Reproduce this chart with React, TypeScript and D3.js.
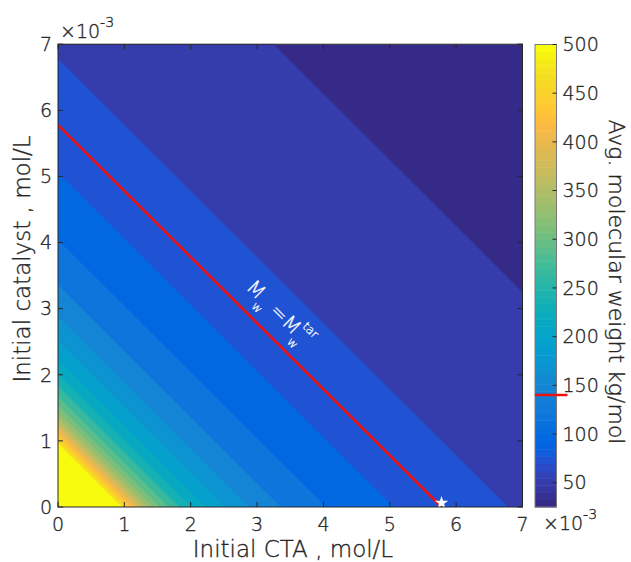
import React from "react";
import * as d3 from "d3";

// Axis ticks (units of 1e-3 mol/L) and colorbar ticks (kg/mol)
const ctaTicks = [0, 1, 2, 3, 4, 5, 6, 7];
const catTicks = [0, 1, 2, 3, 4, 5, 6, 7];
const mwTicks = [50, 100, 150, 200, 250, 300, 350, 400, 450, 500];

// Filled-contour levels of the average molecular weight (kg/mol)
const mwLevels = [
  25, 48.75, 72.5, 96.25, 120, 143.75, 167.5, 191.25, 215, 238.75, 262.5,
  286.25, 310, 333.75, 357.5, 381.25, 405, 428.75, 452.5, 476.25, 500,
];
// CTA + catalyst total (1e-3 mol/L) at which mwLevels[1..] are reached
const levelSums = [
  10.25, 6.78, 5.06, 4.04, 3.36, 2.88, 2.52, 2.23, 2.01, 1.83, 1.67, 1.54,
  1.43, 1.34, 1.25, 1.18, 1.11, 1.055, 1.0, 0.955,
];

// Target molecular weight and the CTA + catalyst total that yields it
const targetMw = 140;
const targetSum = 5.78;

// MATLAB parula colormap, 64 entries
const parula = [
  "#352a87", "#363093", "#3637a0", "#353dad", "#3243ba", "#2b4ac7", "#2053d4", "#0f5cdd",
  "#0363e1", "#0268e1", "#046de0", "#0871de", "#0d75dc", "#1079da", "#127dd8", "#1481d6",
  "#1485d4", "#1389d3", "#108ed2", "#0c93d2", "#0998d1", "#079ccf", "#06a0cd", "#06a4ca",
  "#06a7c6", "#07a9c2", "#0aacbe", "#0faeb9", "#15b1b4", "#1db3af", "#25b5a9", "#2eb7a4",
  "#38b99e", "#42bb98", "#4dbc92", "#59bd8c", "#65be86", "#71bf80", "#7cbf7b", "#87bf77",
  "#92bf73", "#9bbe6e", "#a5be6b", "#aebd67", "#b7bd64", "#c0bc60", "#c8bb5c", "#d1bb59",
  "#d9ba56", "#e1b952", "#e9b94e", "#f1b94a", "#f8ba44", "#fdbe3d", "#ffc337", "#fec832",
  "#fcce2e", "#f9d32a", "#f7d826", "#f5de21", "#f5e41d", "#f5eb18", "#f6f313", "#f9fb0e",
];

const W = 631;
const H = 562;
const TEXT = "#262626";
const FONT = "'DejaVu Sans', 'Liberation Sans', sans-serif";

export default function App() {
  const x = d3.scaleLinear().domain([0, 7]).range([58, 522.5]);
  const y = d3.scaleLinear().domain([0, 7]).range([507, 44.2]);
  const cMin = mwLevels[0];
  const cMax = mwLevels[mwLevels.length - 1];
  const cb = d3.scaleLinear().domain([cMin, cMax]).range([507, 44.5]);
  const cbX0 = 535;
  const cbX1 = 556.5;

  const colorOf = (v: number) => {
    const i = Math.floor(((v - cMin) / (cMax - cMin)) * parula.length);
    return parula[Math.max(0, Math.min(parula.length - 1, i))];
  };

  const x0 = x(0), x1 = x(7), yTop = y(7), yBot = y(0);

  // Bands: paint successively smaller triangles x + y <= s
  const bandPath = (s: number) =>
    `M${x(0)},${y(0)}L${x(s)},${y(0)}L${x(0)},${y(s)}Z`;

  // Angle of the target line in screen space
  const ang =
    (Math.atan2(y(0) - y(targetSum), x(targetSum) - x(0)) * 180) / Math.PI;
  const labelPos = { x: 2.82, y: 3.31 };

  const starR = 7;
  const star = d3.symbol().type(d3.symbolStar).size((starR * starR) / 0.8908)();

  const cbStep = (cb(cMin) - cb(cMax)) / parula.length;

  // thin outline to give the light face a little more weight
  const ink = { fill: TEXT, stroke: TEXT, strokeWidth: 0.35 };

  return (
    <svg
      width={W}
      height={H}
      style={{ position: "absolute", left: 0, top: 0, background: "#fff" }}
      fontFamily={FONT}
      fontWeight={300}
    >
      <defs>
        <clipPath id="plotArea">
          <rect x={x0} y={yTop} width={x1 - x0} height={yBot - yTop} />
        </clipPath>
      </defs>

      {/* filled contours */}
      <g clipPath="url(#plotArea)">
        <rect x={x0} y={yTop} width={x1 - x0} height={yBot - yTop} fill={colorOf(mwLevels[0])} />
        {levelSums.map((s, k) => (
          <path key={k} d={bandPath(s)} fill={colorOf(mwLevels[k + 1])} />
        ))}
        {/* target line */}
        <line
          x1={x(0)}
          y1={y(targetSum)}
          x2={x(targetSum)}
          y2={y(0)}
          stroke="#f01010"
          strokeWidth={2.6}
        />
        <path d={star || ""} transform={`translate(${x(targetSum)},${y(0) - 4})`} fill="#fff" />
      </g>

      {/* target line label */}
      <text
        transform={`translate(${x(labelPos.x)},${y(labelPos.y)}) rotate(${ang})`}
        fill="#fff"
        stroke="#fff"
        strokeWidth={0.3}
        fontSize={20}
      >
        <tspan>M</tspan>
        <tspan fontSize={12} dy={9.5}>w</tspan>
        <tspan dy={-9.5}> =M</tspan>
        <tspan fontSize={12} dy={9.5}>w</tspan>
        <tspan fontSize={12} dx={-9.8} dy={-22}>tar</tspan>
      </text>

      {/* axes box */}
      <rect x={x0} y={yTop} width={x1 - x0} height={yBot - yTop} fill="none" stroke={TEXT} strokeWidth={1} />
      {ctaTicks.map((t) => (
        <g key={"xt" + t}>
          <line x1={x(t)} x2={x(t)} y1={yBot} y2={yBot - 5} stroke={TEXT} />
          <line x1={x(t)} x2={x(t)} y1={yTop} y2={yTop + 5} stroke={TEXT} />
          <text x={x(t)} y={yBot + 24} textAnchor="middle" fontSize={19} {...ink}>
            {t}
          </text>
        </g>
      ))}
      {catTicks.map((t) => (
        <g key={"yt" + t}>
          <line x1={x0} x2={x0 + 5} y1={y(t)} y2={y(t)} stroke={TEXT} />
          <line x1={x1} x2={x1 - 5} y1={y(t)} y2={y(t)} stroke={TEXT} />
          <text x={x0 - 6} y={y(t)} dy="0.36em" textAnchor="end" fontSize={19} {...ink}>
            {t}
          </text>
        </g>
      ))}

      {/* exponent labels */}
      <text x={60} y={38} fontSize={19} {...ink}>
        ×10<tspan fontSize={14} dy={-11}>-3</tspan>
      </text>
      <text x={543} y={530} fontSize={19} {...ink}>
        ×10<tspan fontSize={14} dy={-11}>-3</tspan>
      </text>

      {/* axis titles */}
      <text x={293} y={557} textAnchor="middle" fontSize={23} {...ink}>
        Initial CTA , mol/L
      </text>
      <text
        transform={`translate(30,259) rotate(-90)`}
        textAnchor="middle"
        fontSize={23}
        {...ink}
      >
        Initial catalyst , mol/L
      </text>

      {/* colorbar */}
      {parula.map((col, i) => (
        <rect
          key={"cb" + i}
          x={cbX0}
          y={cb(cMin) - (i + 1) * cbStep}
          width={cbX1 - cbX0}
          height={cbStep + 0.5}
          fill={col}
        />
      ))}
      <rect
        x={cbX0}
        y={cb(cMax)}
        width={cbX1 - cbX0}
        height={cb(cMin) - cb(cMax)}
        fill="none"
        stroke="#7a7a7a"
        strokeWidth={1}
      />
      {mwTicks.map((t) => (
        <g key={"ct" + t}>
          <line x1={cbX1} x2={cbX1 - 4} y1={cb(t)} y2={cb(t)} stroke={TEXT} />
          <text x={cbX1 + 6} y={cb(t)} dy="0.36em" fontSize={19} {...ink}>
            {t}
          </text>
        </g>
      ))}
      <line
        x1={cbX0}
        x2={cbX1 + 11}
        y1={cb(targetMw)}
        y2={cb(targetMw)}
        stroke="#f01010"
        strokeWidth={2.6}
      />
      <text
        transform={`translate(609,282) rotate(90)`}
        textAnchor="middle"
        fontSize={22}
        {...ink}
      >
        Avg. molecular weight kg/mol
      </text>
    </svg>
  );
}
